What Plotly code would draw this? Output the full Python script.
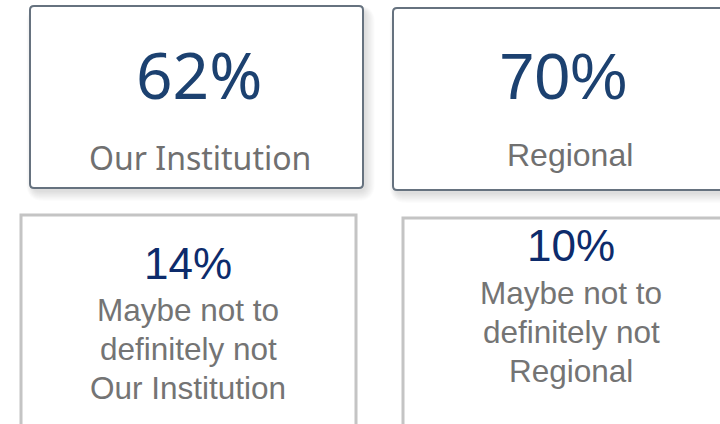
import plotly.graph_objects as go

# ---- data ----
top_values = ["62%", "70%"]
top_labels = ["Our Institution", "Regional"]
bottom_values = ["14%", "10%"]
bottom_labels = [["Maybe not to", "definitely not", "Our Institution"],
                 ["Maybe not to", "definitely not", "Regional"]]

W, H = 720, 424

# card geometry (pixels)
top_cards = [(30, 6, 363, 188), (393, 8, 732, 190)]
bot_cards = [(21, 215, 356, 430), (403, 218, 740, 430)]


def rounded(x0, y0, x1, y1, r):
    return (f"M {x0+r},{y0} L {x1-r},{y0} Q {x1},{y0} {x1},{y0+r} "
            f"L {x1},{y1-r} Q {x1},{y1} {x1-r},{y1} L {x0+r},{y1} "
            f"Q {x0},{y1} {x0},{y1-r} L {x0},{y0+r} Q {x0},{y0} {x0+r},{y0} Z")


shapes = []
# soft shadows for top cards
for (x0, y0, x1, y1) in top_cards:
    for k in range(1, 12):
        shapes.append(dict(type="path", xref="x", yref="y",
                           path=rounded(x0 - k * 0.6 + 3, y0 - k * 0.4 + 4,
                                        x1 + k * 0.9 + 2, y1 + k * 0.9 + 3, 6 + k),
                           fillcolor="rgba(0,0,0,0.012)", line=dict(width=0),
                           layer="below"))
for (x0, y0, x1, y1) in top_cards:
    shapes.append(dict(type="path", xref="x", yref="y",
                       path=rounded(x0, y0, x1, y1, 4),
                       fillcolor="white", line=dict(color="#66727f", width=2),
                       layer="below"))
for (x0, y0, x1, y1) in bot_cards:
    shapes.append(dict(type="rect", xref="x", yref="y",
                       x0=x0, y0=y0, x1=x1, y1=y1,
                       fillcolor="white", line=dict(color="#c4c4c4", width=3),
                       layer="below"))

annotations = []
# top cards
top_val_y = [74, 77]
top_lab_y = [157, 155]
top_fonts = ["Noto Sans", "Liberation Sans"]
top_val_size = [64, 64]
top_lab_size = [32, 32]
top_cx = [199, 563]
top_lab_cx = [200, 570]
for i in range(2):
    annotations.append(dict(x=top_cx[i], y=top_val_y[i], xref="x", yref="y",
                            text=top_values[i], showarrow=False,
                            xanchor="center", yanchor="middle",
                            font=dict(family=top_fonts[i], size=top_val_size[i],
                                      color="#1c4170")))
    annotations.append(dict(x=top_lab_cx[i], y=top_lab_y[i], xref="x", yref="y",
                            text=top_labels[i], showarrow=False,
                            xanchor="center", yanchor="middle",
                            font=dict(family=top_fonts[i], size=top_lab_size[i],
                                      color="#707070")))

# bottom cards
bot_cx = [188, 571]
bot_val_y = [263, 245]
bot_lab_y0 = [310, 293]
line_gap = 39
for i in range(2):
    annotations.append(dict(x=bot_cx[i], y=bot_val_y[i], xref="x", yref="y",
                            text=bottom_values[i], showarrow=False,
                            xanchor="center", yanchor="middle",
                            font=dict(family="Liberation Sans", size=44,
                                      color="#0d2b6b")))
    for j, line in enumerate(bottom_labels[i]):
        annotations.append(dict(x=bot_cx[i], y=bot_lab_y0[i] + j * line_gap,
                                xref="x", yref="y",
                                text=line, showarrow=False,
                                xanchor="center", yanchor="middle",
                                font=dict(family="Liberation Sans", size=31.5,
                                          color="#747474")))

fig = go.Figure()
fig.update_layout(
    width=W, height=H,
    margin=dict(l=0, r=0, t=0, b=0),
    paper_bgcolor="white", plot_bgcolor="white",
    xaxis=dict(range=[0, W], visible=False, fixedrange=True),
    yaxis=dict(range=[H, 0], visible=False, fixedrange=True),
    shapes=shapes, annotations=annotations,
    showlegend=False,
)
fig.write_html("out.html", config={"displayModeBar": False},
               post_script="document.body.style.margin='0';document.body.style.overflow='hidden';")
